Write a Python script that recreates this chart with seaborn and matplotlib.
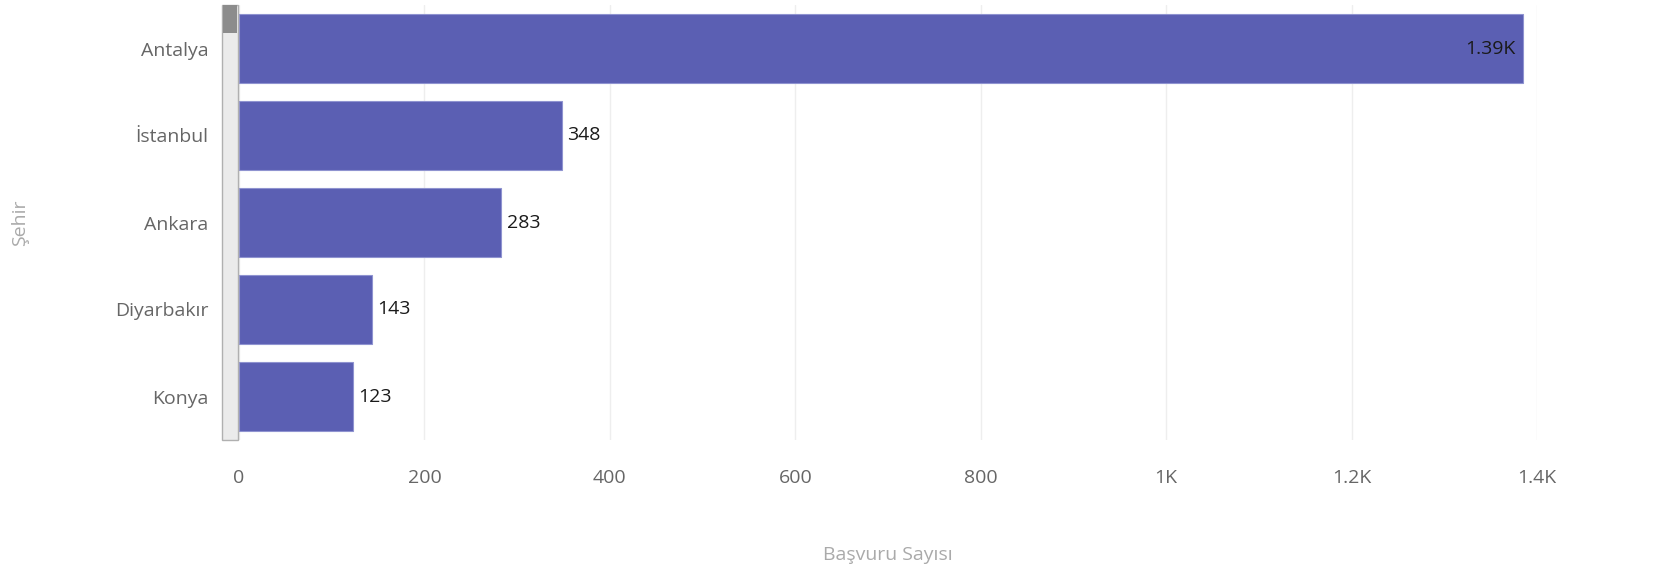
import matplotlib
matplotlib.use("Agg")
import matplotlib.pyplot as plt
import seaborn as sns
import pandas as pd
from matplotlib.patches import Rectangle
from matplotlib.ticker import FuncFormatter

cities = ["Antalya", "İstanbul", "Ankara", "Diyarbakır", "Konya"]
counts = [1385, 348, 283, 143, 123]
xticks = [0, 200, 400, 600, 800, 1000, 1200, 1400]

sns.set_theme(style="white")
plt.rcParams["font.family"] = ["Open Sans", "DejaVu Sans"]

df = pd.DataFrame({"Şehir": cities, "Başvuru Sayısı": counts})

fig = plt.figure(figsize=(16.75, 5.82), dpi=100)
ax = fig.add_axes([239/1675, 1-440/582, (1537-239)/1675, 435/582])

sns.barplot(data=df, y="Şehir", x="Başvuru Sayısı", color="#5b5fb3",
            saturation=1, width=0.8, edgecolor="#8f93d0", linewidth=0.8, ax=ax)

ax.set_xlim(0, 1400)
ax.set_ylim(4.5, -0.5)
ax.set_xticks(xticks)

def fmt(v, pos=None):
    if v >= 1000:
        s = f"{v/1000:.2f}".rstrip("0").rstrip(".")
        return s + "K"
    return f"{int(v)}"

ax.xaxis.set_major_formatter(FuncFormatter(fmt))
ax.grid(axis="x", color="#eeeeee", linewidth=1)
ax.set_axisbelow(True)
for s in ax.spines.values():
    s.set_visible(False)
fs = 14
ax.tick_params(axis="x", length=0, pad=21, labelsize=fs, labelcolor="#666666")
ax.tick_params(axis="y", length=0, pad=22, labelsize=fs, labelcolor="#666666")
ax.set_xlabel("Başvuru Sayısı", fontsize=fs, color="#aaaaaa", labelpad=42)
ax.set_ylabel("Şehir", fontsize=fs, color="#aaaaaa", labelpad=62)

for i, v in enumerate(counts):
    if v >= 1000:
        ax.text(v - 8, i, fmt(v), ha="right", va="center", fontsize=fs, color="#1a1a1a")
    else:
        ax.text(v + 6, i, fmt(v), ha="left", va="center", fontsize=fs, color="#1a1a1a")

# scrollbar decoration
fig.add_artist(Rectangle((222/1675, 1-440/582), 16/1675, 435/582, transform=fig.transFigure,
                         facecolor="#ebebeb", edgecolor="#b0b0b0", linewidth=1))
fig.add_artist(Rectangle((223/1675, 1-33/582), 14/1675, 28/582, transform=fig.transFigure,
                         facecolor="#8c8c8c", edgecolor="none"))

fig.savefig("out.png", dpi=100)
